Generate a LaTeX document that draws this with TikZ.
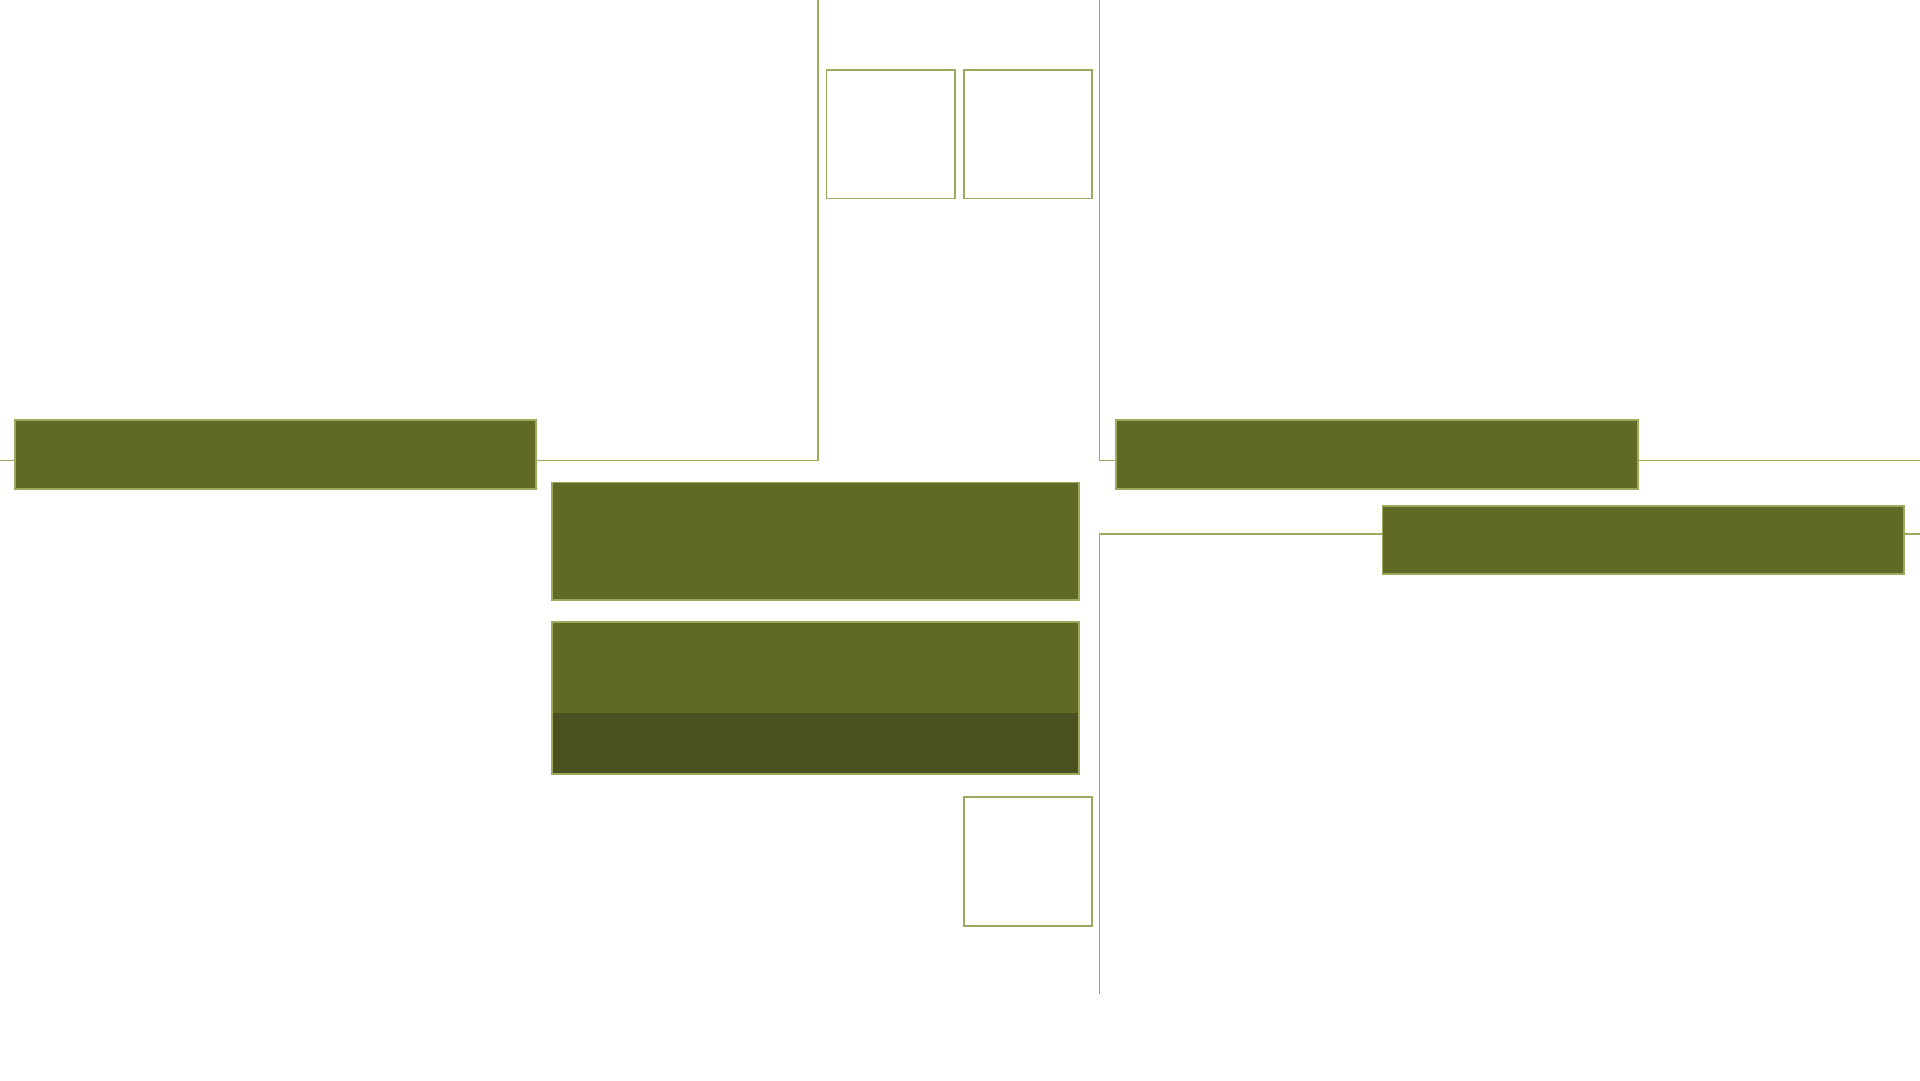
\documentclass[tikz,border=0pt]{standalone}
\usepackage{tikz}
\usetikzlibrary{positioning, calc}
\definecolor{olivefill}{HTML}{606A24}
\definecolor{olivedark}{HTML}{4A501F}
\definecolor{olivelight}{HTML}{9DAA5E}

\begin{document}
\begin{tikzpicture}[x=0.1mm, y=-0.1mm,
        bar/.style={draw=olivelight, fill=olivefill, line width=0.5pt, inner sep=0pt,
            minimum width=52.16mm, minimum height=6.86mm},
        panel/.style={bar, minimum width=52.68mm},
        slot/.style={draw=olivelight, fill=white, line width=0.5pt, inner sep=0pt, minimum size=12.86mm},
        link/.style={draw=olivelight, line width=0.5pt}]
        \useasboundingbox (0,0) rectangle (1920,1080);

        \coordinate (leftin) at (0,460.4);
        \coordinate (lefttop) at (818,0);
        \coordinate (righttop) at (1099.6,0);
        \coordinate (rightout) at (1920,460.4);
        \coordinate (lowend) at (1099.6,994.3);
        \coordinate (lowout) at (1920,534);

        \node[bar] (lbar) at (275.5,454.3) {};
        \node[bar] (rbara) at (1377,454.3) {};
        \node[bar] (rbarb) at (1643.3,540) {};
        \node[panel, minimum height=11.75mm] (cbara) at (815.4,541.3) {};
        \node[panel, minimum height=15.2mm,
            path picture={\fill[olivedark] ($(path picture bounding box.south west)+(0,-61.3)$)
                rectangle (path picture bounding box.south east);}] (cbarb) at (815.4,698) {};
        \node[slot] (tslota) at (890.8,134.1) {};
        \node[slot] (tslotb) at (1028,134.1) {};
        \node[slot] (bslot) at (1028,861.4) {};

        \draw[link] (leftin) -- (leftin -| lbar.west);
        \draw[link] (leftin -| lbar.east) -- (leftin -| lefttop) -- (lefttop);
        \draw[link] (righttop) -- (righttop |- rightout) -- (rightout -| rbara.west);
        \draw[link] (rightout -| rbara.east) -- (rightout);
        \draw[link] (lowend) -- (lowend |- lowout) -- (lowout -| rbarb.west);
        \draw[link] (lowout -| rbarb.east) -- (lowout);
    \end{tikzpicture}
\end{document}
